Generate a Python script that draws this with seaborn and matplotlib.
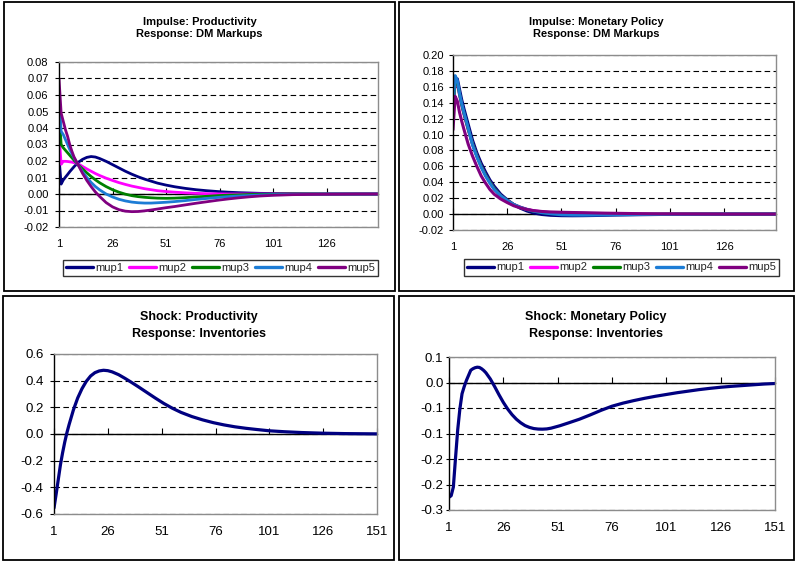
import numpy as np
import pandas as pd
import matplotlib
matplotlib.use("Agg")
import matplotlib.pyplot as plt
from matplotlib.patches import Rectangle
from matplotlib.lines import Line2D
import seaborn as sns

# ---------------- data ----------------
series_names = ["mup1", "mup2", "mup3", "mup4", "mup5"]
series_colors = ["#000080", "#FF00FF", "#008000", "#1C7CD5", "#800080"]

# Panel 1: Impulse Productivity -> DM Markups
p1_periods = [1, 2, 3, 4, 5, 6, 7, 8, 10, 12, 14, 16, 18, 20, 23, 26, 29, 32, 35, 38,
              41, 44, 47, 51, 55, 60, 65, 70, 75, 80, 85, 90, 95, 101, 110, 120, 130, 140, 150]
p1_mup1 = [0.022, 0.006, 0.0085, 0.0102, 0.0118, 0.0135, 0.015, 0.0165, 0.0192, 0.021, 0.0222,
           0.0227, 0.0224, 0.0215, 0.0198, 0.0178, 0.0158, 0.0138, 0.0120, 0.0104, 0.0090, 0.0078,
           0.0066, 0.0054, 0.0044, 0.0034, 0.0026, 0.0020, 0.0015, 0.0011, 0.0008, 0.0006, 0.0004,
           0.0003, 0.0002, 0.0001, 0.0, 0.0, 0.0]
p1_mup2 = [0.037, 0.018, 0.0198, 0.0198, 0.0197, 0.0195, 0.0193, 0.019, 0.0183, 0.0167, 0.0152,
           0.0138, 0.0124, 0.0112, 0.0096, 0.0082, 0.0069, 0.0058, 0.0048, 0.0040, 0.0032, 0.0026,
           0.0020, 0.0015, 0.0011, 0.0007, 0.0004, 0.0002, 0.0001, 0.0, 0.0, 0.0, 0.0,
           0.0, 0.0, 0.0, 0.0, 0.0, 0.0]
p1_mup3 = [0.050, 0.030, 0.028, 0.0265, 0.025, 0.0235, 0.022, 0.0205, 0.0178, 0.0152, 0.0128,
           0.0106, 0.0086, 0.0068, 0.0045, 0.0026, 0.0011, -0.0001, -0.001, -0.0016, -0.002, -0.0023,
           -0.0025, -0.0026, -0.0025, -0.0022, -0.0018, -0.0014, -0.001, -0.0007, -0.0005, -0.0003,
           -0.0002, -0.0001, 0.0, 0.0, 0.0, 0.0, 0.0]
p1_mup4 = [0.060, 0.038, 0.036, 0.033, 0.030, 0.027, 0.0245, 0.022, 0.0175, 0.0135, 0.0100,
           0.0070, 0.0045, 0.0025, 0.0, -0.0018, -0.0032, -0.0042, -0.0049, -0.0053, -0.0055, -0.0055,
           -0.0053, -0.005, -0.0046, -0.004, -0.0033, -0.0027, -0.0021, -0.0016, -0.0012, -0.0009,
           -0.0006, -0.0004, -0.0002, -0.0001, 0.0, 0.0, 0.0]
p1_mup5 = [0.070, 0.049, 0.044, 0.039, 0.035, 0.030, 0.026, 0.0225, 0.0175, 0.0125, 0.0082,
           0.0045, 0.0012, -0.0015, -0.0052, -0.0078, -0.0095, -0.0104, -0.0107, -0.0106, -0.0102,
           -0.0097, -0.0091, -0.0083, -0.0076, -0.0066, -0.0056, -0.0047, -0.0038, -0.003, -0.0023,
           -0.0017, -0.0012, -0.0008, -0.0004, -0.0002, -0.0001, 0.0, 0.0]

# Panel 2: Impulse Monetary Policy -> DM Markups
p2_periods = [1, 2, 3, 4, 5, 6, 8, 10, 12, 14, 16, 18, 20, 23, 26, 29, 32, 35, 38, 42, 46,
              51, 56, 61, 66, 71, 76, 86, 96, 106, 116, 126, 136, 150]
p2_mup1 = [0.130, 0.170, 0.170, 0.157, 0.144, 0.133, 0.113, 0.093, 0.077, 0.064, 0.053, 0.043,
           0.035, 0.025, 0.018, 0.012, 0.0075, 0.004, 0.0015, -0.0005, -0.0015, -0.002, -0.0021,
           -0.002, -0.0018, -0.0015, -0.0012, -0.0008, -0.0005, -0.0003, -0.0001, 0.0, 0.0, 0.0]
p2_mup2 = [0.125, 0.168, 0.165, 0.150, 0.137, 0.126, 0.106, 0.088, 0.073, 0.060, 0.049, 0.040,
           0.032, 0.023, 0.017, 0.0122, 0.0088, 0.0062, 0.0044, 0.0028, 0.0018, 0.001, 0.0006,
           0.0004, 0.0002, 0.0001, 0.0, 0.0, 0.0, 0.0, 0.0, 0.0, 0.0, 0.0]
p2_mup3 = [0.128, 0.171, 0.166, 0.151, 0.138, 0.127, 0.107, 0.088, 0.073, 0.060, 0.049, 0.040,
           0.032, 0.023, 0.017, 0.012, 0.0085, 0.0058, 0.0038, 0.002, 0.0008, 0.0, -0.0004,
           -0.0005, -0.0005, -0.0004, -0.0003, -0.0002, -0.0001, 0.0, 0.0, 0.0, 0.0, 0.0]
p2_mup4 = [0.135, 0.174, 0.168, 0.152, 0.139, 0.128, 0.108, 0.087, 0.072, 0.059, 0.048, 0.039,
           0.031, 0.023, 0.017, 0.012, 0.0085, 0.0058, 0.0038, 0.0018, 0.0005, -0.0008, -0.0012,
           -0.0013, -0.0012, -0.001, -0.0008, -0.0005, -0.0003, -0.0002, -0.0001, 0.0, 0.0, 0.0]
p2_mup5 = [0.106, 0.148, 0.142, 0.128, 0.117, 0.107, 0.088, 0.073, 0.060, 0.048, 0.039, 0.031,
           0.025, 0.019, 0.0145, 0.0105, 0.0078, 0.0058, 0.0044, 0.0033, 0.0027, 0.0023, 0.002,
           0.0018, 0.0015, 0.0012, 0.001, 0.0006, 0.0003, 0.0002, 0.0001, 0.0, 0.0, 0.0]

# Panel 3: Shock Productivity -> Inventories
p3_periods = [1, 2, 3, 4, 5, 6, 7, 8, 10, 12, 14, 16, 18, 20, 22, 24, 26, 28, 31, 34, 37, 40,
              44, 48, 52, 56, 60, 65, 70, 75, 80, 85, 90, 95, 101, 108, 116, 126, 136, 151]
p3_inventories = [-0.555, -0.45, -0.34, -0.23, -0.14, -0.06, 0.01, 0.07, 0.18, 0.27, 0.34,
                  0.395, 0.435, 0.46, 0.473, 0.478, 0.475, 0.466, 0.445, 0.417, 0.387, 0.356,
                  0.313, 0.27, 0.229, 0.193, 0.162, 0.131, 0.106, 0.085, 0.068, 0.054, 0.043,
                  0.034, 0.024, 0.017, 0.011, 0.006, 0.003, 0.001]

# Panel 4: Shock Monetary Policy -> Inventories
p4_periods = [1, 2, 3, 4, 5, 6, 7, 8, 9, 10, 11, 12, 13, 14, 15, 16, 17, 18, 20, 22, 24, 26,
              28, 30, 32, 34, 36, 38, 40, 42, 44, 46, 48, 52, 56, 61, 66, 71, 76, 81, 86, 91,
              96, 101, 106, 111, 116, 121, 126, 131, 136, 141, 146, 151]
p4_inventories = [-0.225, -0.222, -0.205, -0.148, -0.093, -0.052, -0.022, -0.008, 0.004, 0.014,
                  0.024, 0.027, 0.029, 0.030, 0.0295, 0.027, 0.0235, 0.019, 0.007, -0.008,
                  -0.024, -0.039, -0.052, -0.063, -0.072, -0.079, -0.0845, -0.088, -0.0903,
                  -0.0913, -0.0915, -0.091, -0.0895, -0.0848, -0.0792, -0.072, -0.0635,
                  -0.0545, -0.0465, -0.0405, -0.0355, -0.031, -0.027, -0.0235, -0.020,
                  -0.017, -0.014, -0.0115, -0.0093, -0.0075, -0.006, -0.0045, -0.003, -0.002]

# axis ticks / labels
x_ticks_top = [1, 26, 51, 76, 101, 126]
x_labels_top = ["1", "26", "51", "76", "101", "126"]
x_ticks_bottom = [1, 26, 51, 76, 101, 126, 151]
x_labels_bottom = ["1", "26", "51", "76", "101", "126", "151"]
y1_ticks = [-0.02, -0.01, 0.0, 0.01, 0.02, 0.03, 0.04, 0.05, 0.06, 0.07, 0.08]
y1_labels = ["-0.02", "-0.01", "0.00", "0.01", "0.02", "0.03", "0.04", "0.05", "0.06", "0.07", "0.08"]
y2_ticks = [-0.02, 0.0, 0.02, 0.04, 0.06, 0.08, 0.10, 0.12, 0.14, 0.16, 0.18, 0.20]
y2_labels = ["-0.02", "0.00", "0.02", "0.04", "0.06", "0.08", "0.10", "0.12", "0.14", "0.16", "0.18", "0.20"]
y3_ticks = [-0.6, -0.4, -0.2, 0.0, 0.2, 0.4, 0.6]
y3_labels = ["-0.6", "-0.4", "-0.2", "0.0", "0.2", "0.4", "0.6"]
y4_ticks = [-0.25, -0.2, -0.15, -0.1, -0.05, 0.0, 0.05]
y4_labels = ["-0.3", "-0.2", "-0.2", "-0.1", "-0.1", "0.0", "0.1"]

titles = ["Impulse: Productivity\nResponse: DM Markups",
          "Impulse: Monetary Policy\nResponse: DM Markups",
          "Shock: Productivity\nResponse: Inventories",
          "Shock: Monetary Policy\nResponse: Inventories"]


def long_frame(periods, arrays):
    frames = []
    for name, vals in zip(series_names, arrays):
        frames.append(pd.DataFrame({"period": periods, "value": vals, "series": name}))
    return pd.concat(frames, ignore_index=True)


df1 = long_frame(p1_periods, [p1_mup1, p1_mup2, p1_mup3, p1_mup4, p1_mup5])
df2 = long_frame(p2_periods, [p2_mup1, p2_mup2, p2_mup3, p2_mup4, p2_mup5])
df3 = pd.DataFrame({"period": p3_periods, "value": p3_inventories})
df4 = pd.DataFrame({"period": p4_periods, "value": p4_inventories})

# ---------------- figure ----------------
sns.set_style("white")
plt.rcParams["font.family"] = ["Liberation Sans", "DejaVu Sans"]
plt.rcParams["lines.solid_capstyle"] = "round"
plt.rcParams["lines.solid_joinstyle"] = "round"

W, H = 796, 562
fig = plt.figure(figsize=(W / 100, H / 100), dpi=100)
fig.patch.set_facecolor("white")


def frac_rect(x0, y0, x1, y1):
    return [x0 / W, 1 - y1 / H, (x1 - x0) / W, (y1 - y0) / H]


# outer chart boxes
for (x0, y0, x1, y1) in [(4, 1.5, 395, 291), (399, 1.5, 794, 291),
                         (3, 296, 394, 560), (399, 296, 794, 559.5)]:
    fig.add_artist(Rectangle((x0 / W, 1 - y1 / H), (x1 - x0) / W, (y1 - y0) / H,
                             transform=fig.transFigure, fill=False,
                             edgecolor="black", linewidth=1.3))


def style_axes(ax, xmax, xticks, xlabels, yticks, ylabels, ylim, fs, xpad, ypad, ylen):
    ax.set_xlim(1, xmax)
    ax.set_ylim(*ylim)
    ax.set_xticks(xticks)
    ax.set_xticklabels(xlabels)
    ax.set_yticks(yticks)
    ax.set_yticklabels(ylabels)
    ax.set_xlabel("")
    ax.set_ylabel("")
    ax.tick_params(axis="x", length=0, pad=xpad, labelsize=fs, colors="black")
    ax.tick_params(axis="y", length=ylen, width=0.8, direction="out", pad=ypad,
                   labelsize=fs, colors="black", left=True)
    for s in ["top", "right", "bottom"]:
        ax.spines[s].set_visible(True)
        ax.spines[s].set_color("#8c8c8c")
        ax.spines[s].set_linewidth(1.0)
    ax.spines["left"].set_visible(True)
    ax.spines["left"].set_color("black")
    ax.spines["left"].set_linewidth(1.0)
    ax.yaxis.grid(True, color="black", linestyle=(0, (5, 3)), linewidth=0.8)
    ax.xaxis.grid(False)
    ax.set_axisbelow(True)
    # category axis crossing at zero with tick marks
    ax2 = ax.twiny()
    ax2.set_xlim(ax.get_xlim())
    ax2.set_xticks(xticks)
    for s in ["top", "right", "left"]:
        ax2.spines[s].set_visible(False)
    ax2.spines["bottom"].set_visible(True)
    ax2.spines["bottom"].set_position(("data", 0))
    ax2.spines["bottom"].set_color("black")
    ax2.spines["bottom"].set_linewidth(1.0)
    ax2.xaxis.set_ticks_position("bottom")
    ax2.tick_params(axis="x", direction="in", length=4, width=0.8, color="black",
                    labelbottom=False, labeltop=False, top=False, bottom=True)
    ax.set_zorder(ax2.get_zorder() + 1)
    ax.patch.set_visible(False)


# Panel 1
ax1 = fig.add_axes(frac_rect(59, 62, 378, 227))
sns.lineplot(data=df1, x="period", y="value", hue="series", hue_order=series_names,
             palette=series_colors, linewidth=2.0, legend=False, ax=ax1)
style_axes(ax1, 150, x_ticks_top, x_labels_top, y1_ticks, y1_labels, (-0.02, 0.08),
           8, 8.5, 4.5, 3)

# Panel 2
ax2 = fig.add_axes(frac_rect(453, 55, 776, 230))
sns.lineplot(data=df2, x="period", y="value", hue="series", hue_order=series_names,
             palette=series_colors, linewidth=2.2, legend=False, ax=ax2)
style_axes(ax2, 150, x_ticks_top, x_labels_top, y2_ticks, y2_labels, (-0.02, 0.20),
           8, 9.0, 3.5, 3)

# Panel 3
ax3 = fig.add_axes(frac_rect(54, 354, 377, 514))
sns.lineplot(data=df3, x="period", y="value", color="#000080", linewidth=2.3, ax=ax3)
style_axes(ax3, 151, x_ticks_bottom, x_labels_bottom, y3_ticks, y3_labels, (-0.6, 0.6),
           9.5, 8.5, 4.5, 3)

# Panel 4
ax4 = fig.add_axes(frac_rect(449, 357, 775, 510))
sns.lineplot(data=df4, x="period", y="value", color="#000080", linewidth=2.3, ax=ax4)
style_axes(ax4, 151, x_ticks_bottom, x_labels_bottom, y4_ticks, y4_labels, (-0.25, 0.05),
           9.5, 8.5, 2.0, 2)

# titles
for (cx, cy), t, fs, ls in zip([(199.5, 28), (596, 28), (198.5, 325.5), (596, 325.5)],
                               titles, [8, 8, 9, 9], [1.3, 1.3, 1.45, 1.45]):
    fig.text(cx / W, 1 - cy / H, t, ha="center", va="center", fontsize=fs,
             fontweight="bold", linespacing=ls, color="black")

# legends
handles = [Line2D([], [], color=c, linewidth=2.4) for c in series_colors]
for cx, cy in [(220.5, 268), (621.5, 267.5)]:
    leg = fig.legend(handles, series_names, loc="center", bbox_to_anchor=(cx / W, 1 - cy / H),
                     bbox_transform=fig.transFigure, ncol=5, fontsize=8, frameon=True,
                     fancybox=False, edgecolor="black", handlelength=2.4, handletextpad=0.2,
                     columnspacing=0.55, borderpad=0.3, borderaxespad=0)
    leg.get_frame().set_linewidth(1.0)

fig.savefig("out.png", dpi=100, facecolor="white")
